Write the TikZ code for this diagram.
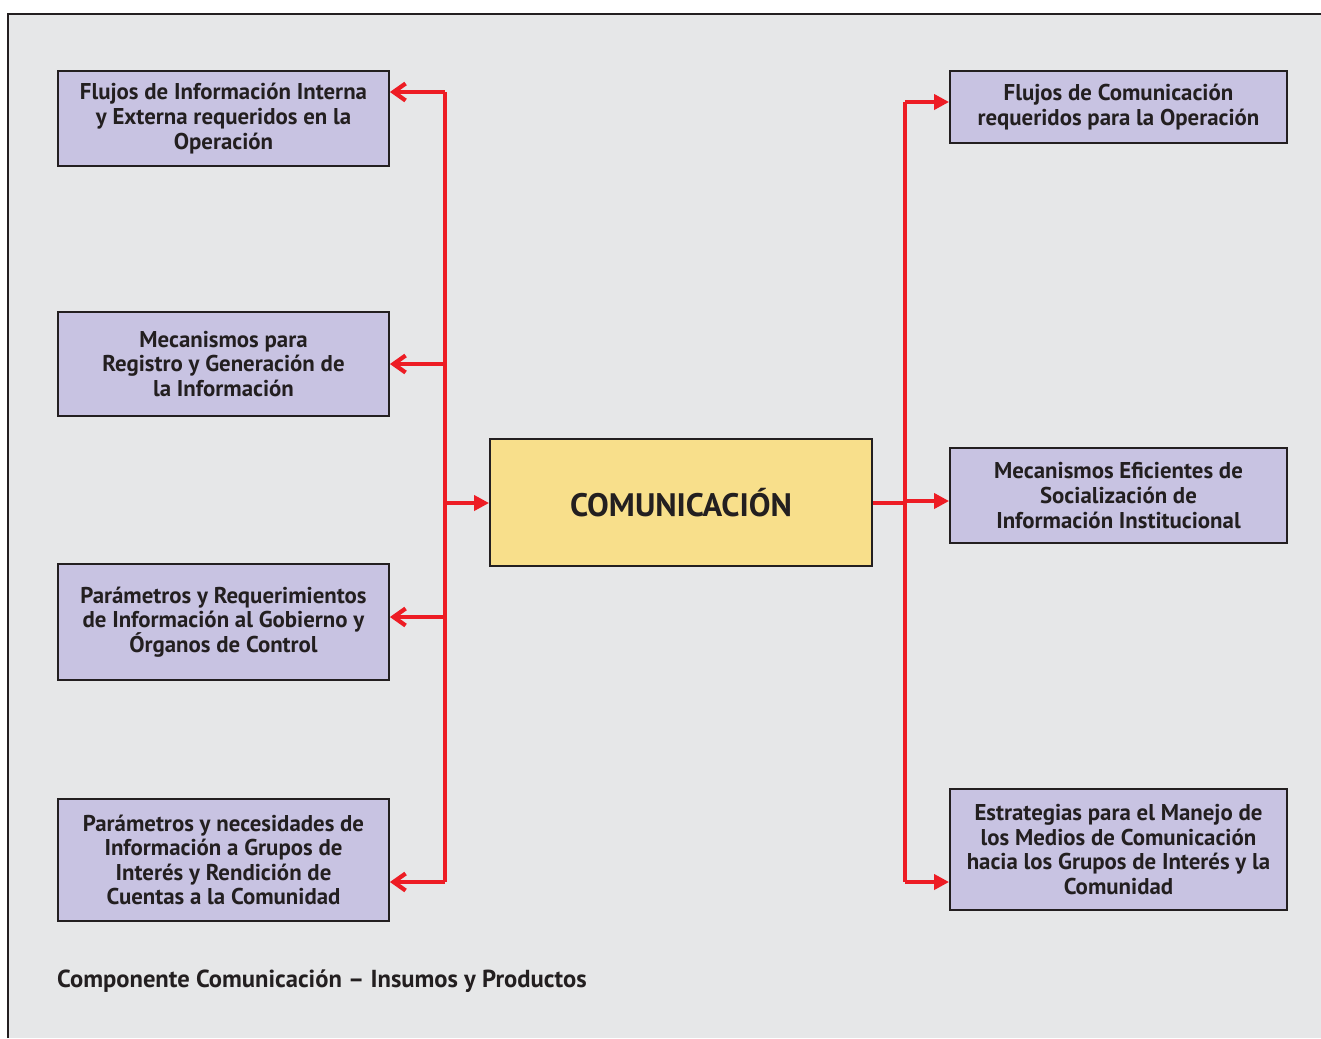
\documentclass[tikz,border=0pt]{standalone}
\usepackage{fontspec}
\setmainfont{PT Sans}
\usetikzlibrary{arrows.meta}

\definecolor{fondo}{HTML}{E6E7E8}
\definecolor{lila}{HTML}{C8C3E2}
\definecolor{amarillo}{HTML}{F8DF8B}
\definecolor{rojo}{HTML}{ED1C24}
\definecolor{borde}{HTML}{231F20}

\begin{document}
\begin{tikzpicture}[x=0.02cm, y=-0.02cm]

    \tikzset{caja/.style={draw=borde, line width=1.1pt, fill=lila, align=center,
                 font=\bfseries\fontsize{13}{14}\selectfont, text=borde, inner sep=2pt},
             cajaizq/.style={caja, minimum width=6.62cm},
             cajader/.style={caja, minimum width=6.74cm},
             central/.style={draw=borde, line width=1.1pt, fill=amarillo, text=borde,
                 minimum width=7.64cm, minimum height=2.54cm,
                 font=\bfseries\fontsize{18.5}{20}\selectfont},
             enlace/.style={draw=rojo, line width=2.4pt},
             sale/.style={enlace, -{Straight Barb[length=0.24cm, width=0.34cm, line width=2.4pt]}},
             entra/.style={enlace, -{Triangle[length=0.3cm, width=0.3cm]}}}

    \useasboundingbox (0,0) rectangle (1321,1038);
    \fill[white] (0,0) rectangle (1321,1038);
    \fill[fondo] (8,14) rectangle (1321,1038);
    \draw[borde, line width=1.1pt] (8,1038) -- (8,14) -- (1321,14);

    \node[central] (com) at (681,502.5) {COMUNICACIÓN};

    \node[cajaizq, minimum height=1.90cm] (l1) at (223.5,118.5)
        {Flujos de Información Interna\\y Externa requeridos en la\\Operación};
    \node[cajaizq, minimum height=2.08cm] (l2) at (223.5,364)
        {Mecanismos para\\Registro y Generación de\\la Información};
    \node[cajaizq, minimum height=2.32cm] (l3) at (223.5,622)
        {Parámetros y Requerimientos\\de Información al Gobierno y\\Órganos de Control};
    \node[cajaizq, minimum height=2.44cm] (l4) at (223.5,860)
        {Parámetros y necesidades de\\Información a Grupos de\\Interés y Rendición de\\Cuentas a la Comunidad};

    \node[cajader, minimum height=1.44cm] (r1) at (1118.5,107)
        {Flujos de Comunicación\\requeridos para la Operación};
    \node[cajader, minimum height=1.90cm] (r2) at (1118.5,495.5)
        {Mecanismos Eficientes de\\Socialización de\\Información Institucional};
    \node[cajader, minimum height=2.42cm] (r3) at (1118.5,849.5)
        {Estrategias para el Manejo de\\los Medios de Comunicación\\hacia los Grupos de Interés y la\\Comunidad};

    \node[anchor=west, text=borde, font=\bfseries\fontsize{14}{16}\selectfont]
        (titulo) at (51,981) {Componente Comunicación – Insumos y Productos};

    % puntos sobre las barras rojas
    \coordinate (la1) at (445,92);
    \coordinate (la2) at (445,364);
    \coordinate (lc)  at (445,503);
    \coordinate (la3) at (445,617);
    \coordinate (la4) at (445,882);
    \coordinate (ra1) at (905,102);
    \coordinate (rc)  at (905,503);
    \coordinate (ra2) at (905,501);
    \coordinate (ra3) at (905,882);

    \draw[enlace] (la1) -- (la4);
    \draw[sale] (la1) -- (l1.east |- la1);
    \draw[sale] (la2) -- (l2.east |- la2);
    \draw[sale] (la3) -- (l3.east |- la3);
    \draw[sale] (la4) -- (l4.east |- la4);
    \draw[entra] (lc) -- (com.west |- lc);

    \draw[enlace] (ra1) -- (ra3);
    \draw[enlace] (com.east |- rc) -- (rc);
    \draw[entra] (ra1) -- (r1.west |- ra1);
    \draw[entra] (ra2) -- (r2.west |- ra2);
    \draw[entra] (ra3) -- (r3.west |- ra3);

\end{tikzpicture}
\end{document}
